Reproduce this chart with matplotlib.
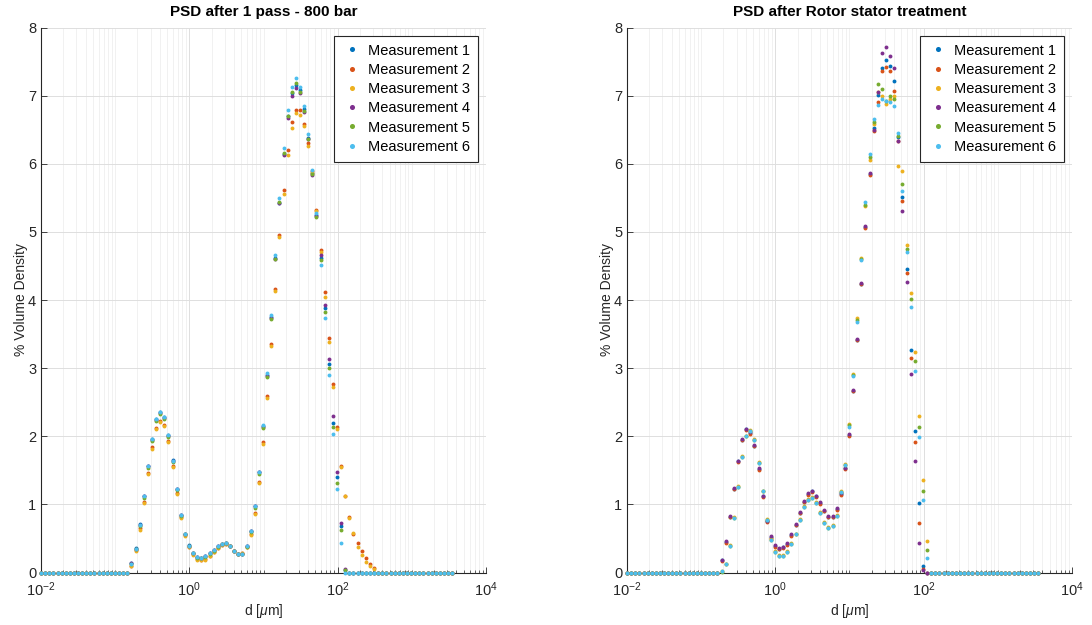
import numpy as np
import matplotlib
matplotlib.use("Agg")
import matplotlib.pyplot as plt
from matplotlib.ticker import FixedLocator, LogFormatterSciNotation, NullFormatter

plt.rcParams['font.family'] = ['Liberation Sans', 'DejaVu Sans']
plt.rcParams['mathtext.fontset'] = 'custom'
plt.rcParams['mathtext.rm'] = 'Liberation Sans'
plt.rcParams['mathtext.it'] = 'Liberation Sans:italic'

# Particle size classes (micrometres), 0.01 .. 3500
size_classes = [
    0.01, 0.0114, 0.0129, 0.0147, 0.0167, 0.0189, 0.0215, 0.0244, 0.0278, 0.0315,
    0.0358, 0.0407, 0.0463, 0.0526, 0.0597, 0.0679, 0.0771, 0.0876, 0.0995, 0.113,
    0.128, 0.146, 0.166, 0.188, 0.214, 0.243, 0.276, 0.314, 0.357, 0.405,
    0.46, 0.523, 0.594, 0.675, 0.767, 0.872, 0.991, 1.13, 1.28, 1.45,
    1.65, 1.88, 2.13, 2.42, 2.75, 3.12, 3.55, 4.03, 4.58, 5.21,
    5.92, 6.72, 7.64, 8.68, 9.86, 11.2, 12.7, 14.5, 16.4, 18.7,
    21.2, 24.1, 27.4, 31.1, 35.3, 40.1, 45.6, 51.8, 58.9, 66.9,
    76.0, 86.4, 98.1, 111, 127, 144, 163, 186, 211, 240,
    272, 310, 352, 400, 454, 516, 586, 666, 756, 859,
    976, 1110, 1260, 1430, 1630, 1850, 2100, 2390, 2710, 3080, 3500,
]

series_labels = ["Measurement 1", "Measurement 2", "Measurement 3",
                 "Measurement 4", "Measurement 5", "Measurement 6"]
series_colors = ["#0072BD", "#D95319", "#EDB120", "#7E2F8E", "#77AC30", "#4DBEEE"]

titles = ["PSD after 1 pass - 800 bar", "PSD after Rotor stator treatment"]

# ---- Left panel: values from size class index 22 (0.166 um) onward; zero elsewhere
left_first_class = 22
left_m1 = [0.14, 0.36, 0.71, 1.13, 1.57, 1.96, 2.25, 2.35, 2.28, 2.02, 1.65, 1.23, 0.85, 0.57,
           0.40, 0.29, 0.23, 0.22, 0.24, 0.28, 0.33, 0.39, 0.42, 0.43, 0.39, 0.32, 0.27, 0.27,
           0.39, 0.61, 0.97, 1.47, 2.15, 2.90, 3.75, 4.62, 5.43, 6.15, 6.70, 7.04, 7.15, 7.08,
           6.80, 6.38, 5.86, 5.25, 4.62, 3.88, 3.06, 2.20, 1.40, 0.68, 0.04]
left_m2 = [0.10, 0.33, 0.65, 1.04, 1.46, 1.84, 2.12, 2.23, 2.17, 1.93, 1.57, 1.17, 0.81, 0.55,
           0.38, 0.27, 0.20, 0.18, 0.20, 0.24, 0.30, 0.36, 0.41, 0.42, 0.39, 0.32, 0.27, 0.28,
           0.38, 0.56, 0.88, 1.33, 1.91, 2.59, 3.36, 4.16, 4.95, 5.62, 6.20, 6.61, 6.79, 6.79,
           6.59, 6.30, 5.90, 5.32, 4.73, 4.12, 3.44, 2.77, 2.14, 1.57, 1.13, 0.81, 0.57, 0.43,
           0.32, 0.22, 0.13, 0.06]
left_m3 = [0.10, 0.32, 0.63, 1.02, 1.44, 1.82, 2.10, 2.21, 2.15, 1.91, 1.55, 1.15, 0.80, 0.54,
           0.37, 0.26, 0.19, 0.18, 0.19, 0.24, 0.30, 0.36, 0.40, 0.42, 0.39, 0.32, 0.27, 0.28,
           0.38, 0.55, 0.86, 1.31, 1.89, 2.56, 3.33, 4.13, 4.92, 5.55, 6.13, 6.52, 6.74, 6.72,
           6.56, 6.26, 5.86, 5.30, 4.70, 4.05, 3.39, 2.72, 2.11, 1.55, 1.12, 0.80, 0.58, 0.38,
           0.26, 0.16, 0.10, 0.05]
left_m4 = [0.14, 0.35, 0.70, 1.12, 1.56, 1.95, 2.24, 2.34, 2.27, 2.01, 1.64, 1.22, 0.84, 0.56,
           0.39, 0.28, 0.23, 0.22, 0.24, 0.28, 0.33, 0.39, 0.42, 0.43, 0.39, 0.32, 0.27, 0.27,
           0.39, 0.61, 0.97, 1.47, 2.14, 2.89, 3.74, 4.60, 5.42, 6.13, 6.67, 7.00, 7.11, 7.04,
           6.76, 6.36, 5.84, 5.24, 4.66, 3.93, 3.14, 2.30, 1.47, 0.73, 0.05]
left_m5 = [0.12, 0.34, 0.68, 1.10, 1.54, 1.93, 2.22, 2.32, 2.25, 1.99, 1.62, 1.21, 0.83, 0.56,
           0.39, 0.28, 0.22, 0.21, 0.23, 0.27, 0.32, 0.38, 0.42, 0.43, 0.39, 0.32, 0.27, 0.27,
           0.38, 0.60, 0.95, 1.45, 2.12, 2.87, 3.72, 4.60, 5.44, 6.16, 6.70, 7.05, 7.18, 7.06,
           6.78, 6.36, 5.85, 5.22, 4.58, 3.83, 3.00, 2.14, 1.32, 0.63, 0.03]
left_m6 = [0.12, 0.35, 0.70, 1.12, 1.57, 1.96, 2.25, 2.36, 2.28, 2.02, 1.64, 1.22, 0.84, 0.56,
           0.39, 0.28, 0.23, 0.22, 0.24, 0.28, 0.33, 0.39, 0.42, 0.43, 0.39, 0.32, 0.27, 0.27,
           0.39, 0.61, 0.97, 1.48, 2.17, 2.93, 3.78, 4.66, 5.50, 6.23, 6.79, 7.12, 7.26, 7.12,
           6.85, 6.43, 5.91, 5.28, 4.52, 3.73, 2.90, 2.03, 1.22, 0.43, 0.0]

# ---- Right panel: values from size class index 22 onward; zero elsewhere
right_first_class = 22
right_m1 = [0.0, 0.18, 0.45, 0.82, 1.23, 1.63, 1.95, 2.10, 2.05, 1.86, 1.52, 1.12, 0.75, 0.52,
            0.39, 0.35, 0.37, 0.42, 0.55, 0.70, 0.88, 1.04, 1.15, 1.19, 1.12, 1.02, 0.91, 0.82,
            0.82, 0.93, 1.15, 1.53, 2.02, 2.67, 3.42, 4.24, 5.07, 5.85, 6.52, 7.01, 7.41, 7.53,
            7.44, 7.21, 6.40, 5.51, 4.46, 3.27, 2.08, 1.02, 0.10, 0.0, 0.0]
right_m2 = [0.0, 0.17, 0.44, 0.81, 1.22, 1.62, 1.94, 2.09, 2.04, 1.85, 1.51, 1.11, 0.74, 0.51,
            0.38, 0.34, 0.36, 0.41, 0.54, 0.69, 0.87, 1.03, 1.14, 1.18, 1.11, 1.01, 0.90, 0.81,
            0.81, 0.92, 1.14, 1.52, 2.01, 2.66, 3.41, 4.23, 5.05, 5.83, 6.48, 6.90, 7.36, 7.42,
            7.36, 7.07, 6.33, 5.45, 4.39, 3.15, 1.91, 0.73, 0.05, 0.0, 0.0]
right_m3 = [0.0, 0.02, 0.13, 0.40, 0.81, 1.27, 1.71, 2.01, 2.09, 1.96, 1.62, 1.20, 0.78, 0.49,
            0.31, 0.25, 0.25, 0.31, 0.43, 0.57, 0.78, 0.97, 1.08, 1.11, 1.03, 0.89, 0.74, 0.67,
            0.69, 0.84, 1.19, 1.60, 2.18, 2.92, 3.73, 4.62, 5.38, 6.06, 6.58, 7.05, 7.00, 6.87,
            6.95, 6.99, 5.96, 5.90, 4.81, 4.10, 3.23, 2.29, 1.36, 0.46, 0.0]
right_m4 = [0.0, 0.19, 0.46, 0.83, 1.24, 1.64, 1.96, 2.11, 2.06, 1.87, 1.53, 1.13, 0.76, 0.53,
            0.40, 0.36, 0.38, 0.43, 0.56, 0.71, 0.89, 1.05, 1.16, 1.20, 1.13, 1.03, 0.92, 0.83,
            0.83, 0.94, 1.16, 1.54, 2.03, 2.68, 3.43, 4.25, 5.08, 5.87, 6.50, 7.05, 7.63, 7.72,
            7.58, 7.40, 6.33, 5.30, 4.26, 2.92, 1.63, 0.43, 0.03, 0.0, 0.0]
right_m5 = [0.0, 0.01, 0.12, 0.39, 0.80, 1.26, 1.70, 2.00, 2.08, 1.95, 1.61, 1.19, 0.77, 0.48,
            0.30, 0.24, 0.24, 0.30, 0.42, 0.56, 0.77, 0.96, 1.07, 1.10, 1.02, 0.88, 0.73, 0.66,
            0.68, 0.83, 1.18, 1.58, 2.16, 2.90, 3.70, 4.60, 5.40, 6.10, 6.62, 7.17, 7.09, 6.92,
            7.00, 6.95, 6.41, 5.70, 4.75, 4.01, 3.10, 2.13, 1.20, 0.33, 0.0]
right_m6 = [0.0, 0.02, 0.12, 0.39, 0.80, 1.26, 1.70, 2.00, 2.08, 1.95, 1.61, 1.19, 0.77, 0.48,
            0.30, 0.24, 0.24, 0.30, 0.42, 0.56, 0.77, 0.96, 1.07, 1.10, 1.02, 0.88, 0.73, 0.66,
            0.68, 0.83, 1.18, 1.58, 2.14, 2.88, 3.68, 4.58, 5.44, 6.14, 6.66, 6.86, 6.95, 6.92,
            6.90, 6.85, 6.45, 5.60, 4.71, 3.90, 2.96, 1.99, 1.07, 0.22, 0.0]

panels = [
    (left_first_class, [left_m1, left_m2, left_m3, left_m4, left_m5, left_m6]),
    (right_first_class, [right_m1, right_m2, right_m3, right_m4, right_m5, right_m6]),
]

x = np.array(size_classes, dtype=float)

W, H = 1092, 625
fig = plt.figure(figsize=(W / 100, H / 100), dpi=100)
ax_boxes = [(41, 486), (627, 1072)]
y_top, y_bot = 27.5, 572.5

axis_col = "#262626"
major_ticks = [1e-2, 1e0, 1e2, 1e4]
minor_ticks = [m * 10.0 ** k for k in range(-2, 4) for m in range(1, 10)]
minor_ticks = [t for t in minor_ticks if t not in major_ticks]

for (x0, x1), title, (first, series) in zip(ax_boxes, titles, panels):
    ax = fig.add_axes([x0 / W, 1 - y_bot / H, (x1 - x0) / W, (y_bot - y_top) / H])
    for vals, lab, col in zip(series, series_labels, series_colors):
        y = np.zeros(len(x))
        y[first:first + len(vals)] = vals
        ax.plot(x, y, linestyle="none", marker="o", markersize=2.8,
                markeredgewidth=0, color=col, label=lab, clip_on=False, zorder=3)
    ax.set_xscale("log")
    ax.set_xlim(1e-2, 1e4)
    ax.set_ylim(0, 8)
    ax.xaxis.set_major_locator(FixedLocator(major_ticks))
    ax.xaxis.set_major_formatter(LogFormatterSciNotation())
    ax.xaxis.set_minor_locator(FixedLocator(minor_ticks))
    ax.xaxis.set_minor_formatter(NullFormatter())
    ax.set_yticks(range(0, 9))
    ax.grid(True, which="major", axis="both", color="#dedede", linewidth=0.7)
    ax.grid(True, which="minor", axis="x", color="#efefef", linewidth=0.6)
    ax.set_axisbelow(True)
    for s in ("top", "right"):
        ax.spines[s].set_visible(False)
    for s in ("left", "bottom"):
        ax.spines[s].set_color(axis_col)
        ax.spines[s].set_linewidth(0.8)
    ax.tick_params(which="both", direction="in", colors=axis_col, labelsize=10.5)
    ax.tick_params(which="major", length=4, width=0.6)
    ax.tick_params(which="minor", length=2.2, width=0.5)
    ax.tick_params(axis="x", pad=6)
    ax.set_title(title, fontsize=11, fontweight="bold", color="#000000", pad=8)
    ax.set_xlabel("d [$\\mu$m]", fontsize=10, color=axis_col, labelpad=2)
    ax.set_ylabel("% Volume Density", fontsize=10, color=axis_col, labelpad=0)
    leg = ax.legend(loc="upper right", fancybox=False, framealpha=1, edgecolor=axis_col,
                    fontsize=10.5, handlelength=1.4, handletextpad=0.4, borderpad=0.55,
                    labelspacing=0.36, borderaxespad=0.55, markerscale=1.3)
    leg.get_frame().set_linewidth(0.8)

fig.savefig("out.png", dpi=100, facecolor="white")
